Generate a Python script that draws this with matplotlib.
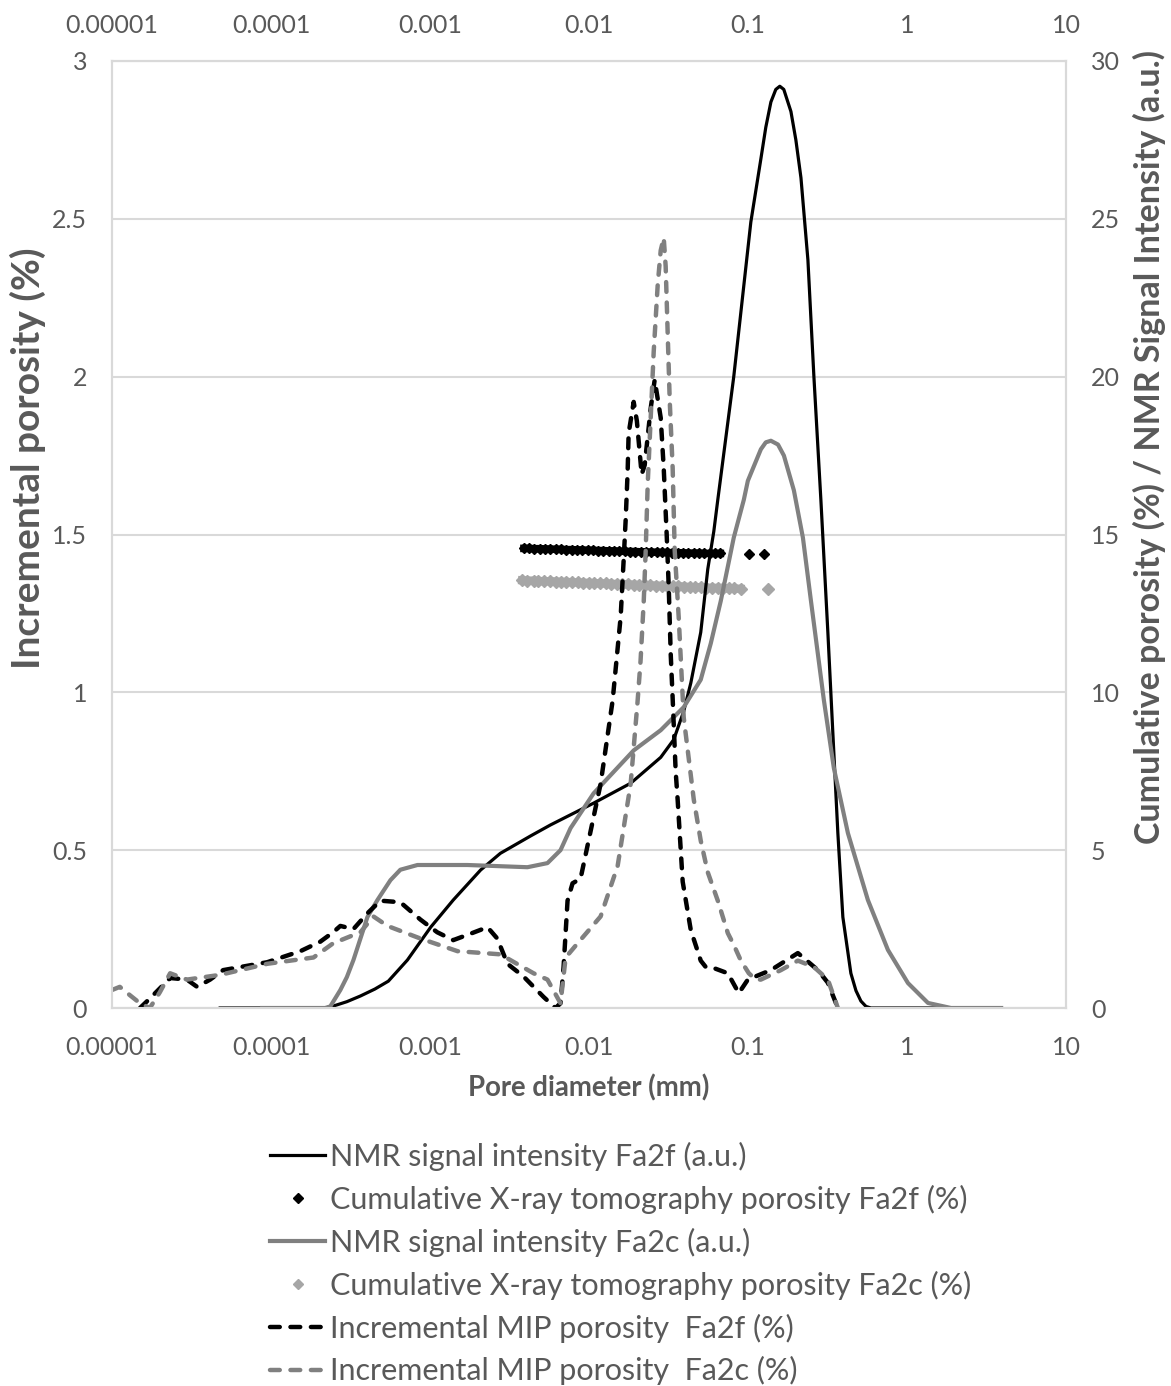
import matplotlib
matplotlib.use("Agg")
import matplotlib.pyplot as plt
from matplotlib.ticker import FixedLocator, FixedFormatter, LogLocator, NullFormatter
from matplotlib.lines import Line2D

plt.rcParams['font.family'] = ['Lato', 'DejaVu Sans']

# ---------------- data ----------------
# NMR signal intensity Fa2f (right axis, a.u.)
nmr_f_d = [4.79e-5, 2.19e-4, 2.46e-4, 3.0e-4, 3.65e-4, 4.5e-4, 5.47e-4, 7.21e-4, 1.01e-3,
           1.40e-3, 2.08e-3, 2.77e-3, 4.29e-3, 5.73e-3, 0.01069, 0.01828, 0.02825, 0.03409,
           0.03942, 0.0437, 0.05044, 0.05584, 0.06095, 0.06457, 0.08136, 0.1042, 0.1205,
           0.1294, 0.1393, 0.1496, 0.1585, 0.1679, 0.1862, 0.2000, 0.2153, 0.2381, 0.2597,
           0.2873, 0.3179, 0.3418, 0.3674, 0.3950, 0.4436, 0.4775, 0.5129, 0.552, 0.5932, 3.91]
nmr_f_v = [0, 0, 0.06, 0.2, 0.38, 0.6, 0.85, 1.52, 2.56,
           3.42, 4.37, 4.9, 5.45, 5.8, 6.49, 7.12, 7.94, 8.5,
           9.4, 10.3, 11.9, 13.9, 15.1, 16.1, 20.0, 24.9, 26.9,
           27.9, 28.7, 29.1, 29.2, 29.1, 28.4, 27.5, 26.3, 23.7, 20.0,
           16.1, 11.9, 8.7, 5.54, 2.88, 1.1, 0.55, 0.22, 0.05, 0.0, 0.0]

# NMR signal intensity Fa2c (right axis, a.u.)
nmr_c_d = [8.8e-5, 2.19e-4, 2.36e-4, 2.73e-4, 3.0e-4, 3.30e-4, 4.04e-4, 4.67e-4, 5.64e-4,
           6.51e-4, 8.34e-4, 1.72e-3, 4.10e-3, 5.48e-3, 6.62e-3, 7.66e-3, 0.01069, 0.01910,
           0.02825, 0.03942, 0.05044, 0.05833, 0.06745, 0.08136, 0.09413, 0.09977, 0.1205,
           0.1294, 0.1393, 0.1544, 0.1682, 0.1943, 0.2215, 0.2488, 0.3001, 0.3467, 0.4250,
           0.5676, 0.7586, 1.014, 1.355, 1.892, 3.91]
nmr_c_v = [0, 0, 0.05, 0.57, 0.98, 1.52, 2.88, 3.42, 4.05,
           4.38, 4.53, 4.53, 4.46, 4.59, 5.0, 5.7, 6.8, 8.16,
           8.8, 9.53, 10.4, 11.55, 12.9, 14.9, 16.1, 16.7, 17.7,
           17.92, 17.97, 17.85, 17.5, 16.4, 14.9, 12.9, 9.75, 7.6, 5.54,
           3.42, 1.84, 0.79, 0.16, 0.0, 0.0]

# Cumulative X-ray tomography porosity Fa2f (right axis, %)
cum_f_d = [0.0039, 0.0042, 0.0045, 0.0049, 0.0053, 0.0057, 0.0062, 0.0067, 0.0072, 0.0078,
           0.0084, 0.0091, 0.0098, 0.0106, 0.0114, 0.0123, 0.0133, 0.0144, 0.0155, 0.0168,
           0.0181, 0.0196, 0.0211, 0.0228, 0.0246, 0.0266, 0.0287, 0.0310, 0.0335, 0.0362,
           0.0391, 0.0422, 0.0456, 0.0492, 0.0532, 0.0574, 0.0620, 0.0670]
cum_f_v = [14.56, 14.56, 14.55, 14.55, 14.54, 14.54, 14.53, 14.53, 14.52, 14.52,
           14.51, 14.51, 14.50, 14.50, 14.49, 14.49, 14.48, 14.48, 14.47, 14.47,
           14.46, 14.46, 14.45, 14.45, 14.44, 14.44, 14.43, 14.43, 14.42, 14.42,
           14.42, 14.41, 14.41, 14.41, 14.40, 14.40, 14.40, 14.40]
cum_f_tail_d = [0.101, 0.126]
cum_f_tail_v = [14.39, 14.39]

# Cumulative X-ray tomography porosity Fa2c (right axis, %)
cum_c_d = [0.0038, 0.0041, 0.0045, 0.0048, 0.0052, 0.0057, 0.0062, 0.0067, 0.0072, 0.0078,
           0.0085, 0.0092, 0.0100, 0.0108, 0.0117, 0.0127, 0.0138, 0.0150, 0.0162, 0.0176,
           0.0191, 0.0207, 0.0224, 0.0243, 0.0264, 0.0286, 0.0310, 0.0336, 0.0365, 0.0396,
           0.0429, 0.0465, 0.0505, 0.0547, 0.0594, 0.0644, 0.0698, 0.0757, 0.0821, 0.0900]
cum_c_v = [13.55, 13.54, 13.54, 13.53, 13.52, 13.52, 13.51, 13.50, 13.50, 13.49,
           13.48, 13.47, 13.47, 13.46, 13.45, 13.45, 13.44, 13.43, 13.43, 13.42,
           13.41, 13.40, 13.40, 13.39, 13.38, 13.38, 13.37, 13.36, 13.36, 13.35,
           13.34, 13.33, 13.33, 13.32, 13.31, 13.31, 13.30, 13.29, 13.29, 13.28]
cum_c_tail_d = [0.133]
cum_c_tail_v = [13.28]

# Incremental MIP porosity Fa2f (left axis, %)
mip_f_d = [1.50e-5, 1.73e-5, 2.32e-5, 2.96e-5, 3.43e-5, 4.14e-5, 5.00e-5, 9.46e-5, 1.53e-4,
           2.04e-4, 2.46e-4, 2.73e-4, 3.30e-4, 4.04e-4, 4.88e-4, 6.51e-4, 8.71e-4, 1.11e-3,
           1.40e-3, 1.79e-3, 2.30e-3, 2.65e-3, 3.07e-3, 3.87e-3, 5.18e-3, 6.16e-3, 6.62e-3,
           6.92e-3, 7.33e-3, 7.88e-3, 8.85e-3, 9.94e-3, 0.01183, 0.01409, 0.01582, 0.01652,
           0.01702, 0.01750, 0.01775, 0.01910, 0.0200, 0.02144, 0.0224, 0.02444, 0.02589,
           0.02825, 0.02951, 0.03080, 0.03170, 0.03266, 0.03359, 0.03508, 0.0361, 0.03884,
           0.04366, 0.05044, 0.05421, 0.05833, 0.07468, 0.08750, 0.09977, 0.1393, 0.2059,
           0.2752, 0.3179, 0.3674]
mip_f_v = [0.0, 0.03, 0.095, 0.09, 0.067, 0.09, 0.12, 0.145, 0.18,
           0.21, 0.24, 0.26, 0.25, 0.30, 0.34, 0.335, 0.28, 0.24,
           0.215, 0.235, 0.256, 0.22, 0.14, 0.10, 0.035, 0.0, 0.015,
           0.13, 0.34, 0.395, 0.41, 0.53, 0.71, 0.975, 1.24, 1.42,
           1.55, 1.70, 1.82, 1.92, 1.86, 1.69, 1.72, 1.90, 1.99,
           1.87, 1.71, 1.50, 1.34, 1.12, 0.98, 0.75, 0.66, 0.40,
           0.247, 0.15, 0.13, 0.13, 0.11, 0.047, 0.09, 0.12, 0.174,
           0.12, 0.08, 0.0]

# Incremental MIP porosity Fa2c (left axis, %)
mip_c_d = [1.0e-5, 1.12e-5, 1.30e-5, 1.50e-5, 1.73e-5, 2.0e-5, 2.32e-5, 2.96e-5, 4.79e-5,
           9.46e-5, 1.85e-4, 2.46e-4, 3.65e-4, 4.41e-4, 5.40e-4, 8.71e-4, 1.49e-3, 2.77e-3,
           4.48e-3, 5.48e-3, 6.62e-3, 7.13e-3, 8.48e-3, 0.01183, 0.01514, 0.01828, 0.0202,
           0.0211, 0.0221, 0.02273, 0.02340, 0.02444, 0.02553, 0.02704, 0.02825, 0.02951,
           0.03035, 0.03124, 0.03221, 0.03359, 0.03459, 0.03664, 0.03942, 0.04561, 0.05044,
           0.05584, 0.06457, 0.07468, 0.08136, 0.0902, 0.1012, 0.1119, 0.1205, 0.1610,
           0.2059, 0.2597, 0.3179, 0.3674]
mip_c_v = [0.057, 0.067, 0.04, 0.015, 0.0, 0.05, 0.11, 0.09, 0.105,
           0.14, 0.16, 0.205, 0.24, 0.29, 0.26, 0.22, 0.18, 0.17,
           0.11, 0.09, 0.015, 0.16, 0.205, 0.29, 0.45, 0.71, 0.97,
           1.10, 1.29, 1.45, 1.66, 1.87, 2.08, 2.29, 2.40, 2.44,
           2.35, 2.14, 1.92, 1.71, 1.45, 1.24, 0.92, 0.66, 0.53,
           0.43, 0.34, 0.237, 0.20, 0.15, 0.11, 0.09, 0.09, 0.12,
           0.15, 0.13, 0.09, 0.0]

x_ticks = [1e-5, 1e-4, 1e-3, 1e-2, 1e-1, 1, 10]
x_tick_labels = ["0.00001", "0.0001", "0.001", "0.01", "0.1", "1", "10"]
left_ticks = [0, 0.5, 1, 1.5, 2, 2.5, 3]
left_tick_labels = ["0", "0.5", "1", "1.5", "2", "2.5", "3"]
right_ticks = [0, 5, 10, 15, 20, 25, 30]
right_tick_labels = ["0", "5", "10", "15", "20", "25", "30"]

labels = ["NMR signal intensity Fa2f (a.u.)",
          "Cumulative X-ray tomography porosity Fa2f (%)",
          "NMR signal intensity Fa2c (a.u.)",
          "Cumulative X-ray tomography porosity Fa2c (%)",
          "Incremental MIP porosity  Fa2f (%)",
          "Incremental MIP porosity  Fa2c (%)"]

# ---------------- figure ----------------
W, H = 1171, 1386
fig = plt.figure(figsize=(W / 100, H / 100), dpi=100)
left, right, top, bottom = 112, 1066, 61, 1008
ax = fig.add_axes([left / W, 1 - bottom / H, (right - left) / W, (bottom - top) / H])
ax2 = ax.twinx()
ax.set_zorder(ax2.get_zorder() + 1)
ax.patch.set_visible(False)

TXT = '#595959'
GRID = '#d9d9d9'
MINOR = '#eeeeee'
BLACK = '#000000'
GRAY = '#808080'
LGRAY = '#a6a6a6'

for a in (ax, ax2):
    a.set_xscale('log')
    a.set_xlim(1e-5, 10)
ax.set_ylim(0, 3)
ax2.set_ylim(0, 30)

# grid on the lower axes
ax2.xaxis.set_major_locator(FixedLocator(x_ticks))
ax2.xaxis.set_minor_locator(LogLocator(base=10, subs=range(2, 10), numticks=100))
ax2.grid(which='major', axis='x', color=GRID, lw=1.5)
ax2.grid(which='minor', axis='x', color=MINOR, lw=1.2)
ax2.yaxis.set_major_locator(FixedLocator(right_ticks))
ax2.grid(which='major', axis='y', color=GRID, lw=1.5)
ax2.set_axisbelow(True)

# cumulative X-ray (dense band of diamonds) and NMR (right axis)
ax2.plot(cum_f_d, cum_f_v, linestyle='-', lw=5.5, marker='D', ms=5.5, color=BLACK, zorder=2)
ax2.plot(cum_f_tail_d, cum_f_tail_v, linestyle='none', marker='D', ms=5, color=BLACK, zorder=2)
ax2.plot(cum_c_d, cum_c_v, linestyle='-', lw=6.0, marker='D', ms=6, color=LGRAY, zorder=2)
ax2.plot(cum_c_tail_d, cum_c_tail_v, linestyle='none', marker='D', ms=6.5, color=LGRAY, zorder=2)
ax2.plot(nmr_f_d, nmr_f_v, color=BLACK, lw=2.3, zorder=3, solid_joinstyle='round')
ax2.plot(nmr_c_d, nmr_c_v, color=GRAY, lw=3.0, zorder=3, solid_joinstyle='round')

# MIP (left axis, on top)
dash = (0, (2.2, 2.4))
ax.plot(mip_f_d, mip_f_v, color=BLACK, lw=3.2, linestyle=dash, dash_capstyle='round')
ax.plot(mip_c_d, mip_c_v, color=GRAY, lw=3.2, linestyle=dash, dash_capstyle='round')

# ticks and labels
ax.xaxis.set_major_locator(FixedLocator(x_ticks))
ax.xaxis.set_major_formatter(FixedFormatter(x_tick_labels))
ax.xaxis.set_minor_formatter(NullFormatter())
ax2.xaxis.set_major_formatter(FixedFormatter(x_tick_labels))
ax2.xaxis.set_minor_formatter(NullFormatter())
ax.yaxis.set_major_locator(FixedLocator(left_ticks))
ax.yaxis.set_major_formatter(FixedFormatter(left_tick_labels))
ax2.yaxis.set_major_formatter(FixedFormatter(right_tick_labels))

FS = 18
ax.tick_params(axis='both', which='both', length=0, labelsize=FS, labelcolor=TXT)
ax.tick_params(axis='x', pad=20)
ax.tick_params(axis='y', pad=18)
ax2.tick_params(axis='both', which='both', length=0, labelsize=FS, labelcolor=TXT)
ax2.tick_params(axis='y', pad=18)
ax2.tick_params(axis='x', labelbottom=False)

top_ax = ax.secondary_xaxis('top')
top_ax.set_xscale('log')
top_ax.xaxis.set_major_locator(FixedLocator(x_ticks))
top_ax.xaxis.set_major_formatter(FixedFormatter(x_tick_labels))
top_ax.xaxis.set_minor_formatter(NullFormatter())
top_ax.tick_params(axis='x', which='both', length=0, labelsize=FS, labelcolor=TXT, pad=17.5)
top_ax.spines['top'].set_visible(False)

for a in (ax, ax2):
    for s in a.spines.values():
        s.set_color(GRID)
        s.set_linewidth(1.5)

fig.text(28 / W, 1 - 458 / H, 'Incremental porosity (%)', rotation=90, ha='center', va='center',
         fontsize=28, fontweight='bold', color=TXT)
fig.text(1149 / W, 1 - 447 / H, 'Cumulative porosity (%) / NMR Signal Intensity (a.u.)',
         rotation=90, ha='center', va='center', fontsize=24.5, fontweight='bold', color=TXT)
fig.text(589 / W, 1 - 1088 / H, 'Pore diameter (mm)', ha='center', va='center',
         fontsize=19.8, fontweight='bold', color=TXT)

handles = [
    Line2D([], [], color=BLACK, lw=2.3),
    Line2D([], [], color=BLACK, marker='D', ms=5, linestyle='none'),
    Line2D([], [], color=GRAY, lw=3.0),
    Line2D([], [], color=LGRAY, marker='D', ms=5, linestyle='none'),
    Line2D([], [], color=BLACK, lw=3.2, linestyle=dash, dash_capstyle='round'),
    Line2D([], [], color=GRAY, lw=3.2, linestyle=dash, dash_capstyle='round'),
]
fig.legend(handles, labels, loc='upper left', bbox_to_anchor=(270 / W, 1 - 1142 / H),
           frameon=False, fontsize=22, labelcolor=TXT, handlelength=1.8,
           handletextpad=0.17, labelspacing=0.45, borderpad=0, borderaxespad=0)

fig.savefig('out.png', dpi=100, facecolor='white')
